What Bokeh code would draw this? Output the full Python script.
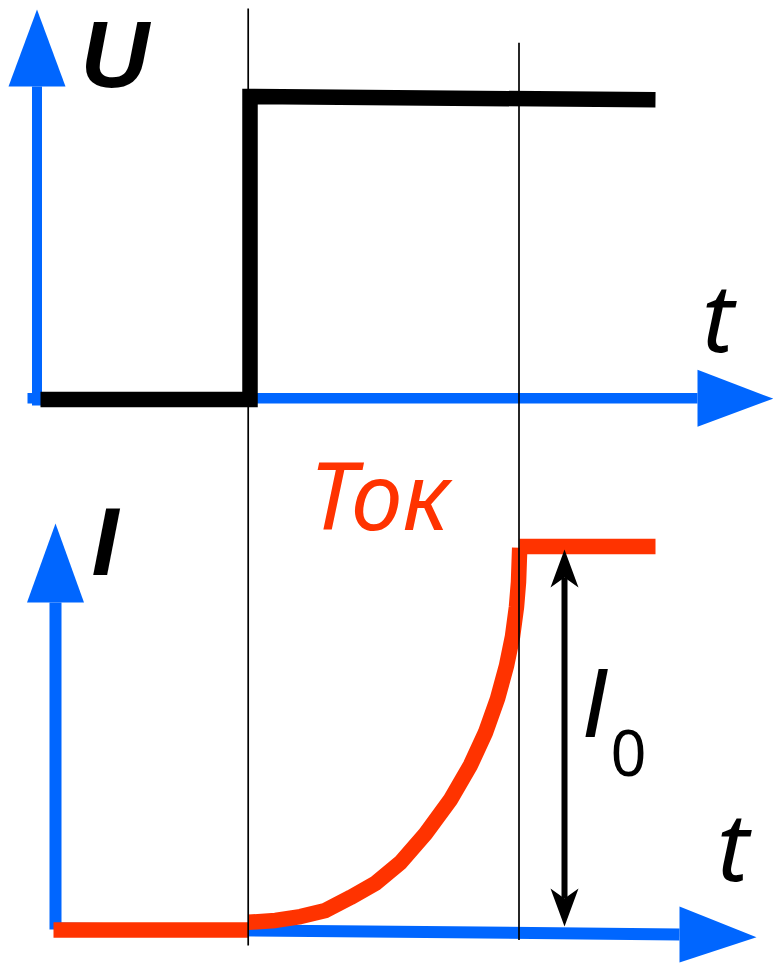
from bokeh.plotting import figure
from bokeh.models import Range1d, ColumnDataSource
from bokeh.core.properties import value
from bokeh.embed import file_html
from bokeh.resources import INLINE

# ---------------- data (time t, voltage U, current I in relative units) ----------------
t_voltage = [-2.08, 0.015, 0.015, 4.07]
u_voltage = [0.0, 0.0, 1.0, 0.989]

t_current_off = [-1.95, 0.0]
i_current_off = [0.0, 0.0]
t_current_rise = [0.00, 0.27, 0.52, 0.77, 1.02, 1.27, 1.52, 1.77, 2.02, 2.22,
                  2.37, 2.49, 2.58, 2.64, 2.68, 2.70, 2.712]
i_current_rise = [0.020, 0.025, 0.035, 0.051, 0.085, 0.122, 0.176, 0.251, 0.340, 0.430,
                  0.515, 0.603, 0.689, 0.765, 0.843, 0.907, 0.997]
t_current_on = [2.71, 4.07]
i_current_on = [1.0, 1.0]

t_switch_on = -0.003     # moment the voltage is applied
t_steady = 2.705         # moment the current reaches I0
t_i0_marker = 3.16       # position of the I0 double arrow

label_u = "U"
label_i = "I"
label_t = "t"
label_current = "Ток"
label_i0 = "I"
label_i0_sub = "0"

# ---------------- canvas / scales ----------------
W, H = 773, 963
T_ORIGIN_PX, PX_PER_T = 248.0, 100.0
U_ORIGIN_PX, PX_PER_U = 399.0, 303.0     # canvas y (from top) of U = 0
I_ORIGIN_PX, PX_PER_I = 929.5, 383.5     # canvas y (from top) of I = 0

x_range = Range1d(-T_ORIGIN_PX / PX_PER_T, (W - T_ORIGIN_PX) / PX_PER_T)
u_range = Range1d((U_ORIGIN_PX - H) / PX_PER_U, U_ORIGIN_PX / PX_PER_U)
i_range = Range1d((I_ORIGIN_PX - H) / PX_PER_I, I_ORIGIN_PX / PX_PER_I)

p = figure(width=W, height=H, x_range=x_range, y_range=u_range,
           x_axis_type=None, y_axis_type=None, toolbar_location=None,
           output_backend="svg", min_border=0, outline_line_color=None)
p.extra_y_ranges = {"I": i_range}
p.xgrid.visible = False
p.ygrid.visible = False
p.background_fill_color = "white"
p.border_fill_color = "white"

BLUE = "#0066ff"
RED = "#ff3300"
BLACK = "#000000"

def px_t(px):
    return px / PX_PER_T

def px_u(px):
    return px / PX_PER_U

def px_i(px):
    return px / PX_PER_I

def pos_t(x_px):
    return (x_px - T_ORIGIN_PX) / PX_PER_T

def pos_u(y_px):
    return (U_ORIGIN_PX - y_px) / PX_PER_U

def pos_i(y_px):
    return (I_ORIGIN_PX - y_px) / PX_PER_I

# ---------------- top panel: voltage ----------------
ua_t, ua_lo, ua_base, ua_tip = -2.115, -0.020, 1.033, 1.287
p.line([ua_t, ua_t], [ua_lo, ua_base], line_color=BLUE, line_width=10)
p.patch([ua_t - px_t(28.5), ua_t + px_t(28.5), ua_t], [ua_base, ua_base, ua_tip],
        fill_color=BLUE, line_color=None)
ta_u, ta_lo, ta_base, ta_tip = 0.0043, -2.21, 4.49, 5.247
p.line([ta_lo, ta_base], [ta_u, ta_u], line_color=BLUE, line_width=10.5)
p.patch([ta_base, ta_base, ta_tip], [ta_u + px_u(28.5), ta_u - px_u(28.5), ta_u - px_u(0.5)],
        fill_color=BLUE, line_color=None)
p.line(t_voltage, u_voltage, line_color=BLACK, line_width=15.5, line_join="miter", line_cap="butt")

# ---------------- bottom panel: current ----------------
ia_t, ia_lo, ia_base, ia_tip = -1.93, 0.0013, 0.854, 1.06
p.line([ia_t, ia_t], [ia_lo, ia_base], line_color=BLUE, line_width=12, y_range_name="I")
p.patch([ia_t - px_t(28.5), ia_t + px_t(28.5), ia_t], [ia_base, ia_base, ia_tip],
        fill_color=BLUE, line_color=None, y_range_name="I")
tb_t = [-1.93, 4.31]
tb_i = [0.0039, -0.0117]
tb_tip_t, tb_tip_i = 5.08, -0.0188
p.line(tb_t, tb_i, line_color=BLUE, line_width=12, y_range_name="I")
p.patch([tb_t[1], tb_t[1], tb_tip_t], [tb_i[1] + px_i(28), tb_i[1] - px_i(28), tb_tip_i],
        fill_color=BLUE, line_color=None, y_range_name="I")

p.line(t_current_off, i_current_off, line_color=RED, line_width=15.5, y_range_name="I")
p.line(t_current_rise, i_current_rise, line_color=RED, line_width=15.5, y_range_name="I",
       line_join="round")
p.line(t_current_on, i_current_on, line_color=RED, line_width=15.5, y_range_name="I")

# I0 double arrow
top_tip, bot_tip = i_current_on[0] - px_i(3), i_current_off[0] + px_i(3.5)
head_len, notch = px_i(38), px_i(28)
hw = px_t(14)
p.line([t_i0_marker, t_i0_marker], [top_tip - notch, bot_tip + notch], line_color=BLACK,
       line_width=6, y_range_name="I")
p.patch([t_i0_marker, t_i0_marker + hw, t_i0_marker, t_i0_marker - hw],
        [top_tip, top_tip - head_len, top_tip - notch, top_tip - head_len],
        fill_color=BLACK, line_color=None, y_range_name="I")
p.patch([t_i0_marker, t_i0_marker + hw, t_i0_marker, t_i0_marker - hw],
        [bot_tip, bot_tip + head_len, bot_tip + notch, bot_tip + head_len],
        fill_color=BLACK, line_color=None, y_range_name="I")

# ---------------- thin time markers (span both panels) ----------------
p.line([t_switch_on, t_switch_on], [pos_u(8), pos_u(945)], line_color=BLACK, line_width=1.7)
p.line([t_steady, t_steady], [pos_u(42.3), pos_u(939.5)], line_color=BLACK, line_width=1.7)

# ---------------- labels (text glyphs) ----------------
def add_text(x_px, y_px, text, font, size, style, color=BLACK, align="left", rng="default"):
    y = pos_u(y_px) if rng == "default" else pos_i(y_px)
    src = ColumnDataSource(dict(x=[pos_t(x_px)], y=[y], text=[text]))
    p.text(x="x", y="y", text="text", source=src, text_font=value(font),
           text_font_size=value(size), text_font_style=style, text_color=color,
           text_align=align, text_baseline="alphabetic", y_range_name=rng)

add_text(80, 53.5, label_u, "Liberation Sans", "95px", "bold italic")
add_text(717.5, 314, label_t, "Noto Sans", "95px", "italic", align="center")
add_text(732.5, 843, label_t, "Noto Sans", "95px", "italic", align="center", rng="I")
add_text(91, 540.5, label_i, "Liberation Sans", "97px", "bold italic", rng="I")
add_text(378.5, 493, label_current, "Noto Sans", "93px", "italic", color=RED, align="center", rng="I")
add_text(581, 702, label_i0, "Liberation Sans", "99px", "italic", rng="I")
add_text(628, 752, label_i0_sub, "Noto Sans", "63px", "normal", align="center", rng="I")

open("out.html", "w").write(file_html(p, INLINE))
